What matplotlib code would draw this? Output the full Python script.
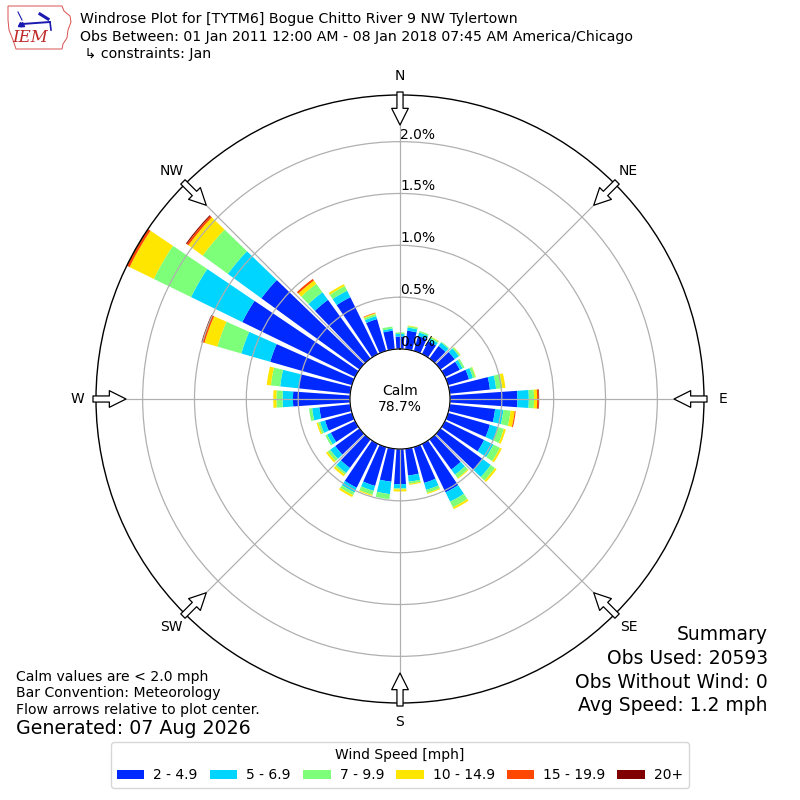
import numpy as np
import matplotlib
matplotlib.use('Agg')
import matplotlib.pyplot as plt
from matplotlib.patches import Patch, Polygon

# wind rose frequencies (%) per 10 degree sector, one list per speed bin
directions = list(range(0, 360, 10))
bin_labels = ['2 - 4.9', '5 - 6.9', '7 - 9.9', '10 - 14.9', '15 - 19.9', '20+']
spd_2_5 = [0.12, 0.18, 0.15, 0.14, 0.15, 0.17, 0.16, 0.21, 0.39, 0.65, 0.44, 0.42,
           0.42, 0.50, 0.36, 0.52, 0.36, 0.26, 0.34, 0.32, 0.39, 0.47, 0.34, 0.29,
           0.26, 0.27, 0.30, 0.55, 0.50, 0.82, 1.21, 1.17, 0.70, 0.61, 0.32, 0.18]
spd_5_7 = [0.025, 0.03, 0.035, 0.03, 0.04, 0.05, 0.03, 0.04, 0.06, 0.11, 0.08, 0.08,
           0.10, 0.10, 0.06, 0.10, 0.07, 0.06, 0.04, 0.12, 0.05, 0.05, 0.06, 0.06,
           0.04, 0.05, 0.07, 0.10, 0.18, 0.29, 0.55, 0.40, 0.09, 0.07, 0.03, 0.02]
spd_7_10 = [0.015, 0.015, 0.015, 0.015, 0.01, 0.015, 0.02, 0.025, 0.06, 0.05, 0.07, 0.06,
            0.07, 0.05, 0.04, 0.06, 0.03, 0.02, 0.01, 0.05, 0.04, 0.03, 0.02, 0.03,
            0.02, 0.02, 0.03, 0.06, 0.09, 0.24, 0.40, 0.30, 0.10, 0.05, 0.02, 0.02]
spd_10_15 = [0.0, 0.005, 0.0, 0.005, 0.0, 0.005, 0.0, 0.005, 0.03, 0.03, 0.04, 0.02,
             0.02, 0.02, 0.01, 0.02, 0.01, 0.01, 0.02, 0.0, 0.01, 0.02, 0.02, 0.02,
             0.0, 0.015, 0.0, 0.03, 0.04, 0.13, 0.26, 0.17, 0.04, 0.02, 0.01, 0.0]
spd_15_20 = [0.0, 0.0, 0.0, 0.0, 0.0, 0.0, 0.0, 0.0, 0.0, 0.015, 0.01, 0.0,
             0.0, 0.0, 0.0, 0.0, 0.0, 0.0, 0.0, 0.0, 0.0, 0.0, 0.0, 0.0,
             0.0, 0.0, 0.0, 0.0, 0.0, 0.02, 0.025, 0.02, 0.02, 0.0, 0.005, 0.0]
spd_20 = [0.0, 0.0, 0.0, 0.0, 0.0, 0.0, 0.0, 0.0, 0.0, 0.005, 0.0, 0.0,
          0.0, 0.0, 0.0, 0.0, 0.0, 0.0, 0.0, 0.0, 0.0, 0.0, 0.0, 0.0,
          0.0, 0.0, 0.0, 0.0, 0.0, 0.01, 0.005, 0.01, 0.0, 0.0, 0.0, 0.0]
bins = [spd_2_5, spd_5_7, spd_7_10, spd_10_15, spd_15_20, spd_20]
compass = ['N', 'NE', 'E', 'SE', 'S', 'SW', 'W', 'NW']
ring_vals = [0.0, 0.5, 1.0, 1.5, 2.0]
calm_pct = 78.7

colors = [plt.cm.jet(i / 6.0) for i in range(1, 7)]

fig = plt.figure(figsize=(8, 8), dpi=100)
ax = fig.add_axes([96 / 800, 97 / 800, 608 / 800, 608 / 800], projection='polar')
ax.set_theta_zero_location('N')
ax.set_theta_direction(-1)

theta = np.deg2rad(directions)
width = np.deg2rad(10) * 0.8
bottom = np.zeros(len(directions))
for vals, c in zip(bins, colors):
    vals = np.array(vals)
    ax.bar(theta, vals, width=width, bottom=bottom, color=c, linewidth=0, zorder=1)
    bottom += vals

rmax = bottom.max()
# calm circle takes ~50px of the ~304px radius
ax.set_ylim(0, rmax)
ax.set_rorigin(-rmax * 50 / 254)


def px2r(px):
    return (px - 50) * rmax / 254


ax.set_yticks(ring_vals)
ax.set_yticklabels([])
ax.set_xticks(np.deg2rad(range(0, 360, 45)))
ax.set_xticklabels([])
ax.grid(True, color='#b0b0b0', linewidth=0.9)
ax.spines['polar'].set_color('black')
ax.spines['polar'].set_linewidth(1.0)

for v in ring_vals:
    ax.text(0, v, '%.1f%%' % v, ha='left', va='bottom', fontsize=10)

for i, lab in enumerate(compass):
    t = np.deg2rad(i * 45)
    ax.text(t, px2r(323), lab, ha='center', va='center', fontsize=10, clip_on=False)
    ax.annotate('', xy=(t, px2r(274)), xytext=(t, px2r(307)), annotation_clip=False,
                arrowprops=dict(arrowstyle='simple,head_width=0.6,head_length=0.6,tail_width=0.22',
                                fc='white', ec='black', lw=0.9, shrinkA=0, shrinkB=0,
                                mutation_scale=20))

ax.text(0.5, 0.5, 'Calm\n%.1f%%' % calm_pct, transform=ax.transAxes, fontsize=10,
        ha='center', va='center')

# header
fig.text(80 / 800, 1 - 19 / 800, 'Windrose Plot for [TYTM6] Bogue Chitto River 9 NW Tylertown',
         fontsize=10.15, va='center')
fig.text(80 / 800, 1 - 37 / 800,
         'Obs Between: 01 Jan 2011 12:00 AM - 08 Jan 2018 07:45 AM America/Chicago',
         fontsize=10.15, va='center')
fig.text(80 / 800, 1 - 54 / 800, ' \u21b3 constraints: Jan', fontsize=10.15, va='center')

# rough IEM logo
lax = fig.add_axes([0, 1 - 55 / 800, 75 / 800, 55 / 800])
lax.set_xlim(0, 75)
lax.set_ylim(55, 0)
lax.axis('off')
lax.add_patch(Polygon([(8, 6), (62, 6), (64, 11), (70, 16), (71, 22), (68, 30), (67, 38),
                       (63, 44), (62, 49), (16, 49), (13, 40), (9, 30), (8, 20)],
                      closed=True, fill=False, ec='#d85050', lw=0.7))
lax.plot([22, 50], [24, 22], color='#1a1ab0', lw=1.4)
lax.plot([40, 48], [14, 19], color='#1a1ab0', lw=2.2)
lax.plot([18, 22], [12, 20], color='#1a1ab0', lw=0.8)
lax.plot([20, 22], [24, 24], color='#1a1ab0', marker='^', ms=3, lw=0)
lax.plot([50, 51], [22, 30], color='#1a1ab0', lw=1.2)
lax.text(30, 38, 'IEM', color='#c02828', fontsize=12, family='serif', style='italic',
         ha='center', va='center')

# footnotes
fig.text(16 / 800, 1 - 677 / 800, 'Calm values are < 2.0 mph', fontsize=10.1, va='center')
fig.text(16 / 800, 1 - 693 / 800, 'Bar Convention: Meteorology', fontsize=10.1, va='center')
fig.text(16 / 800, 1 - 710 / 800, 'Flow arrows relative to plot center.', fontsize=10.1, va='center')
fig.text(16 / 800, 1 - 729 / 800, 'Generated: 07 Aug 2026', fontsize=13.7, va='center')

summary = ['Summary', 'Obs Used: 20593', 'Obs Without Wind: 0', 'Avg Speed: 1.2 mph']
for i, s in enumerate(summary):
    fig.text(768 / 800, 1 - (635 + 23.5 * i) / 800, s, fontsize=13.5, ha='right', va='center')

handles = [Patch(facecolor=c, label=l) for c, l in zip(colors, bin_labels)]
fig.legend(handles=handles, loc='center', bbox_to_anchor=(0.5, 1 - 765 / 800), ncol=6,
           title='Wind Speed [mph]', fontsize=10, title_fontsize=10,
           columnspacing=0.85, handletextpad=0.65, edgecolor='#cccccc')

fig.savefig('out.png', dpi=100)
